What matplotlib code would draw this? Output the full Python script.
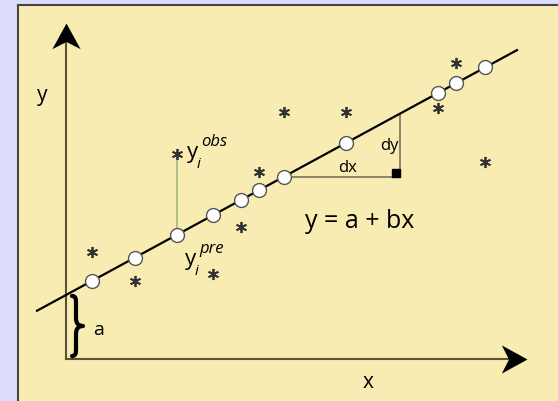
import matplotlib
matplotlib.use("Agg")

import matplotlib.pyplot as plt
from matplotlib.patches import Rectangle, PathPatch
from matplotlib.path import Path
import numpy as np

# ---------------------------
# Fitted line y = a + b x and sample points
# ---------------------------
a = 64.0
b = 0.543

x_pts = np.array([26, 69, 111, 147, 175, 193, 218, 280, 372, 390, 419])
y_obs = np.array([107, 78, 205, 85, 132, 187, 247, 247, 251, 296, 197])
y_pre = a + b * x_pts

line_x = np.array([-29, 451])
i_idx = 2          # point used for the residual annotation
tri_idx = 6        # point where the dx/dy triangle starts
tri_x_end = 334
x_axis_end = 461
y_axis_end = 336

BG = "#dcdcfb"
PANEL = "#f9ecb2"
AXIS_C = "#5a5236"
FONT = "Open Sans"

plt.rcParams["font.family"] = [FONT, "DejaVu Sans"]

fig = plt.figure(figsize=(5.58, 4.02), dpi=100, facecolor=BG)
ax = fig.add_axes([17.5 / 558, 0, 540.5 / 558, 396 / 402], facecolor=PANEL)
ax.set_xlim(-48.5, 492)
ax.set_ylim(-42, 354)
ax.set_xticks([])
ax.set_yticks([])
for side in ("right", "bottom"):
    ax.spines[side].set_visible(False)
for side in ("left", "top"):
    ax.spines[side].set_color("#444444")
    ax.spines[side].set_linewidth(1.5)

# ---------------------------
# Axes arrows (notched heads as path markers, tip at the origin)
# ---------------------------
head_right = Path([(0, 0), (-1, 0.55), (-0.72, 0), (-1, -0.55), (0, 0)],
                  [Path.MOVETO, Path.LINETO, Path.LINETO, Path.LINETO, Path.CLOSEPOLY])
head_up = Path([(0, 0), (-0.55, -1), (0, -0.72), (0.55, -1), (0, 0)],
               [Path.MOVETO, Path.LINETO, Path.LINETO, Path.LINETO, Path.CLOSEPOLY])

ax.plot([0, 0], [0, y_axis_end - 14], color=AXIS_C, lw=1.5, zorder=1)
ax.plot([0, x_axis_end - 14], [0, 0], color=AXIS_C, lw=1.5, zorder=1)
ax.plot([0], [y_axis_end], marker=head_up, ms=37, color="black", mew=0, zorder=2)
ax.plot([x_axis_end], [0], marker=head_right, ms=37, color="black", mew=0, zorder=2)
ax.text(-24, 265, "y", fontsize=15, ha="center", va="center")
ax.text(302, -23, "x", fontsize=15, ha="center", va="center")

# ---------------------------
# Intercept brace, spanning 0..a on the y axis
# ---------------------------
bx, tip, lo, hi = 6, 17, 3, a - 1
mid = (lo + hi) / 2
brace = Path(
    [(bx, hi), (bx + 4, hi), (bx + 4, hi - 3), (bx + 4, hi - 8),
     (bx + 4, mid + 8),
     (bx + 4, mid + 3), (bx + 6, mid), (tip, mid),
     (bx + 6, mid), (bx + 4, mid - 3), (bx + 4, mid - 8),
     (bx + 4, lo + 8),
     (bx + 4, lo + 3), (bx + 4, lo), (bx, lo)],
    [Path.MOVETO, Path.CURVE4, Path.CURVE4, Path.CURVE4,
     Path.LINETO,
     Path.CURVE4, Path.CURVE4, Path.CURVE4,
     Path.CURVE4, Path.CURVE4, Path.CURVE4,
     Path.LINETO,
     Path.CURVE4, Path.CURVE4, Path.CURVE4])
ax.add_patch(PathPatch(brace, fill=False, ec="black", lw=3.0, capstyle="round",
                       joinstyle="round", zorder=3))
ax.text(33, 30, "a", fontsize=14, ha="center", va="center")

# ---------------------------
# Residual and slope triangle
# ---------------------------
ax.plot([x_pts[i_idx]] * 2, [y_pre[i_idx], y_obs[i_idx]], color="#98b47a", lw=1.1, zorder=2)

tri_y0 = y_pre[tri_idx]
tri_y1 = a + b * tri_x_end
ax.plot([x_pts[tri_idx], tri_x_end, tri_x_end], [tri_y0, tri_y0, tri_y1],
        color="#857d62", lw=1.3, zorder=2)
ax.add_patch(Rectangle((tri_x_end - 8, tri_y0), 8, 8, color="black", zorder=3))
ax.text(282, tri_y0 + 10, "dx", fontsize=12, ha="center", va="center")
ax.text(tri_x_end - 11, 214, "dy", fontsize=12, ha="center", va="center")

# ---------------------------
# Regression line, predicted and observed values
# ---------------------------
ax.plot(line_x, a + b * line_x, color="black", lw=1.6, zorder=3)
ax.plot(x_pts, y_obs, ls="none", marker=(6, 2, 0), ms=8, mec="#333333", mew=1.3, zorder=4)
ax.plot(x_pts, y_pre, "o", ms=10, mfc="white", mec="#555555", mew=1.0, zorder=4)


def y_label(x, y, sup):
    # upright y with italic subscript i and italic superscript
    ax.text(x, y, "y", fontsize=16, ha="left", va="center")
    ax.text(x + 10, y - 12, "i", fontsize=11, style="italic", ha="left", va="center")
    ax.text(x + 14, y + 11, sup, fontsize=12, style="italic", ha="left", va="center")


y_label(x_pts[i_idx] + 10, y_obs[i_idx] + 2, "obs")
y_label(x_pts[i_idx] + 8, y_pre[i_idx] - 24, "pre")

ax.text(294, 138, "y = a + bx", fontsize=18, ha="center", va="center")

fig.savefig("out.png", dpi=100, facecolor=BG)
